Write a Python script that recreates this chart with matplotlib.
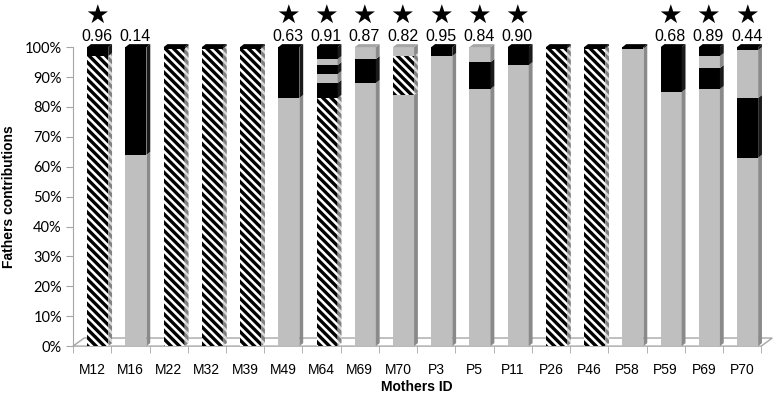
import matplotlib
matplotlib.use("Agg")
import matplotlib.pyplot as plt
from matplotlib.patches import Polygon
import numpy as np

plt.rcParams["font.family"] = ["Liberation Sans", "DejaVu Sans"]
plt.rcParams["hatch.linewidth"] = 2.4

# mothers on the x axis
mothers = ["M12", "M16", "M22", "M32", "M39", "M49", "M64", "M69", "M70",
           "P3", "P5", "P11", "P26", "P46", "P58", "P59", "P69", "P70"]

# father contributions per mother, bottom to top (h = hatched, g = grey, k = black)
seg_kind = [
    ["h", "k"], ["g", "k"], ["h", "k"], ["h", "k"], ["h", "k"], ["g", "k"],
    ["h", "k", "g", "k", "g", "k"], ["g", "k", "g"], ["g", "h", "g"],
    ["g", "k"], ["g", "k", "g"], ["g", "k"], ["h", "k"], ["h", "k"],
    ["g", "k"], ["g", "k"], ["g", "k", "g", "k"], ["g", "k", "g", "k"],
]
seg_pct = [
    [97, 3], [64, 36], [99.5, 0.5], [99.5, 0.5], [99.5, 0.5], [83, 17],
    [83, 5, 3, 3, 2, 4], [88, 8, 4], [84, 13, 3],
    [97, 3], [86, 9, 5], [94, 6], [99.5, 0.5], [99.5, 0.5],
    [99.5, 0.5], [85, 15], [86, 7, 4, 3], [63, 20, 16, 1],
]

# value printed above each bar, and whether a star is shown
top_value = [0.96, 0.14, None, None, None, 0.63, 0.91, 0.87, 0.82,
             0.95, 0.84, 0.90, None, None, None, 0.68, 0.89, 0.44]
has_star = [True, False, False, False, False, True, True, True, True,
            True, True, True, False, False, False, True, True, True]

y_ticks = np.arange(0, 101, 10)

# face colours: front, side, top
front = {"h": "white", "g": "#bfbfbf", "k": "black"}
side = {"h": "#d9d9d9", "g": "#8a8a8a", "k": "#1a1a1a"}
top = {"h": "#d9d9d9", "g": "#a6a6a6", "k": "black"}

fig = plt.figure(figsize=(7.82, 3.96), dpi=100)
ax = fig.add_axes([0.0934, 0.126, 0.880, 0.755])
ax.set_xlim(-0.5, len(mothers) - 0.5)
ax.set_ylim(0, 100)

# depth of the fake 3d effect, in data units
bdx, bdy = 0.10, 1.0
fdx, fdy = 0.29, 2.7
x = np.arange(len(mothers))
x0, x1 = -0.5, len(mothers) - 0.5

# floor
floor = Polygon([(x0, 0), (x1, 0), (x1 + fdx, fdy), (x0 + fdx, fdy)], closed=True,
                facecolor="white", edgecolor="#a6a6a6", lw=1.0, zorder=1, clip_on=False)
ax.add_patch(floor)

bar_l, bar_r = -0.13, 0.42
for i, (kinds, pcts) in enumerate(zip(seg_kind, seg_pct)):
    bottom = 0.0
    for kind, h in zip(kinds, pcts):
        hatch = "\\\\\\\\" if kind == "h" else None
        ax.bar(x[i] + (bar_l + bar_r) / 2, h, width=bar_r - bar_l, bottom=bottom,
               color=front[kind], hatch=hatch, edgecolor="black" if kind == "h" else front[kind],
               linewidth=0, zorder=3, clip_on=False)
        xr = x[i] + bar_r
        sp = Polygon([(xr, bottom), (xr + bdx, bottom + bdy), (xr + bdx, bottom + h + bdy),
                      (xr, bottom + h)], closed=True, facecolor=side[kind],
                     edgecolor="#808080" if kind == "h" else side[kind],
                     hatch=hatch, lw=0, zorder=3, clip_on=False)
        ax.add_patch(sp)
        bottom += h
    xl = x[i] + bar_l
    tp = Polygon([(xl, bottom), (xl + bdx, bottom + bdy), (xr + bdx, bottom + bdy), (xr, bottom)],
                 closed=True, facecolor=top[kinds[-1]], edgecolor="none", zorder=3, clip_on=False)
    ax.add_patch(tp)

    if top_value[i] is not None:
        ax.text(x[i] + 0.12, 103.5, f"{top_value[i]:.2f}", ha="center", va="center",
                fontsize=11.5, clip_on=False)
    if has_star[i]:
        ax.text(x[i] + 0.12, 110.6, "\u2605", ha="center", va="center", fontsize=19,
                family="DejaVu Sans", clip_on=False)

# axes styling
for s in ["top", "right", "bottom"]:
    ax.spines[s].set_visible(False)
ax.spines["left"].set_color("#a6a6a6")
ax.set_yticks(y_ticks)
ax.set_yticklabels([f"{v}%" for v in y_ticks], family="Lato", fontsize=10.5)
ax.tick_params(axis="y", direction="out", length=5, color="#a6a6a6", pad=3)
ax.set_xticks(x)
ax.set_xticklabels(mothers, fontsize=10)
ax.set_xticks(np.arange(len(mothers) + 1) - 0.5, minor=True)
ax.tick_params(axis="x", which="major", length=0, pad=12)
ax.tick_params(axis="x", which="minor", direction="out", length=5, color="#a6a6a6")

ax.set_ylabel("Fathers contributions", fontsize=10, fontweight="bold", labelpad=6)
ax.set_xlabel("Mothers ID", fontsize=10, fontweight="bold", labelpad=2)

fig.savefig("out.png", dpi=100)
